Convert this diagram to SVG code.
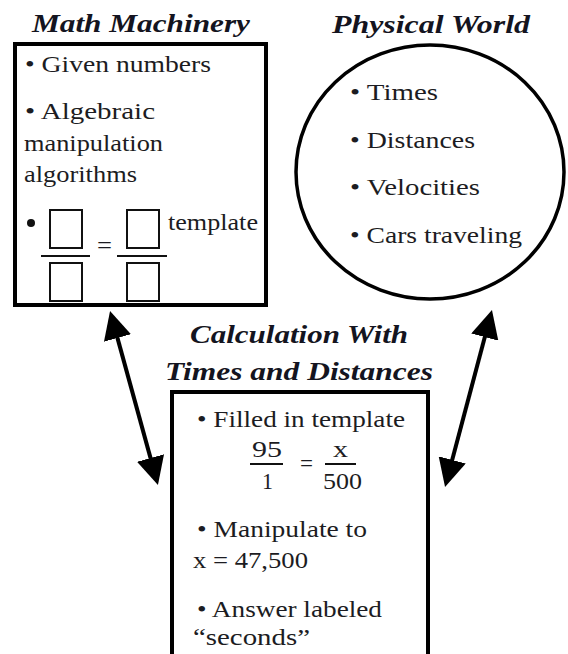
<svg xmlns="http://www.w3.org/2000/svg" width="568" height="654" viewBox="0 0 568 654">
<style>
.t{font-family:"Liberation Serif","Times New Roman",serif;font-size:24px;fill:#1c1c22}
.h{font-family:"Liberation Serif","Times New Roman",serif;font-size:26px;font-weight:bold;font-style:italic;fill:#141420}
.box{fill:#fff;stroke:#000;stroke-width:4}
.sq{fill:none;stroke:#111;stroke-width:2}
.fl{stroke:#111;stroke-width:2}
.arr{stroke:#000;stroke-width:4;fill:none;marker-start:url(#ah);marker-end:url(#ah)}
</style>
<defs>
<marker id="ah" viewBox="0 0 28 28" markerWidth="28" markerHeight="28" refX="18" refY="14" orient="auto-start-reverse" markerUnits="userSpaceOnUse">
<path d="M0,0 L28,14 L0,28 z" fill="#000"/>
</marker>
</defs>
<rect width="568" height="654" fill="#fff"/>
<g id="math-machinery">
<text class="h" x="32" y="32" textLength="218" lengthAdjust="spacingAndGlyphs">Math Machinery</text>
<rect class="box" x="15" y="44" width="251" height="261"/>
<text class="t" x="25" y="72" textLength="186" lengthAdjust="spacingAndGlyphs">• Given numbers</text>
<text class="t" x="25" y="119" textLength="130" lengthAdjust="spacingAndGlyphs">• Algebraic</text>
<text class="t" x="24" y="151" textLength="139" lengthAdjust="spacingAndGlyphs">manipulation</text>
<text class="t" x="24" y="182" textLength="113" lengthAdjust="spacingAndGlyphs">algorithms</text>
<circle cx="31" cy="223" r="4" fill="#111"/>
<rect class="sq" x="50" y="210" width="32" height="38"/>
<line class="fl" x1="41" y1="256" x2="90" y2="256"/>
<rect class="sq" x="50" y="263" width="32" height="38"/>
<text class="t" x="97" y="253" textLength="15" lengthAdjust="spacingAndGlyphs" fill="#666">=</text>
<rect class="sq" x="127" y="210" width="32" height="38"/>
<line class="fl" x1="117" y1="256" x2="167" y2="256"/>
<rect class="sq" x="127" y="263" width="32" height="38"/>
<text class="t" x="168" y="230" textLength="90" lengthAdjust="spacingAndGlyphs">template</text>
</g>
<g id="physical-world">
<text class="h" x="332" y="33" textLength="198" lengthAdjust="spacingAndGlyphs">Physical World</text>
<ellipse cx="430" cy="172" rx="134" ry="127" fill="#fff" stroke="#000" stroke-width="3.5"/>
<text class="t" x="350" y="100" textLength="88" lengthAdjust="spacingAndGlyphs">• Times</text>
<text class="t" x="350" y="148" textLength="125" lengthAdjust="spacingAndGlyphs">• Distances</text>
<text class="t" x="350" y="195" textLength="130" lengthAdjust="spacingAndGlyphs">• Velocities</text>
<text class="t" x="350" y="243" textLength="172" lengthAdjust="spacingAndGlyphs">• Cars traveling</text>
</g>
<g id="calculation">
<text class="h" x="190" y="343" textLength="218" lengthAdjust="spacingAndGlyphs">Calculation With</text>
<text class="h" x="165" y="380" textLength="268" lengthAdjust="spacingAndGlyphs">Times and Distances</text>
<rect class="box" x="172" y="392" width="256" height="275"/>
<text class="t" x="197" y="427" textLength="208" lengthAdjust="spacingAndGlyphs">• Filled in template</text>
<text class="t" x="252" y="457" textLength="30" lengthAdjust="spacingAndGlyphs">95</text>
<line class="fl" x1="250" y1="464" x2="283" y2="464"/>
<text class="t" x="262" y="489" textLength="11" lengthAdjust="spacingAndGlyphs">1</text>
<text class="t" x="300" y="471" textLength="13" lengthAdjust="spacingAndGlyphs" fill="#666">=</text>
<text class="t" x="333" y="457" textLength="15" lengthAdjust="spacingAndGlyphs">x</text>
<line class="fl" x1="325" y1="464" x2="356" y2="464"/>
<text class="t" x="323" y="489" textLength="39" lengthAdjust="spacingAndGlyphs">500</text>
<text class="t" x="197" y="537" textLength="170" lengthAdjust="spacingAndGlyphs">• Manipulate to</text>
<text class="t" x="193" y="568" textLength="115" lengthAdjust="spacingAndGlyphs">x = 47,500</text>
<text class="t" x="197" y="617" textLength="185" lengthAdjust="spacingAndGlyphs">• Answer labeled</text>
<text class="t" x="193" y="645" textLength="117" lengthAdjust="spacingAndGlyphs">“seconds”</text>
</g>
<g id="connectors">
<line class="arr" x1="112.7" y1="320.6" x2="155.3" y2="475.4"/>
<line class="arr" x1="489.4" y1="319.7" x2="447.6" y2="477.3"/>
</g>
</svg>
